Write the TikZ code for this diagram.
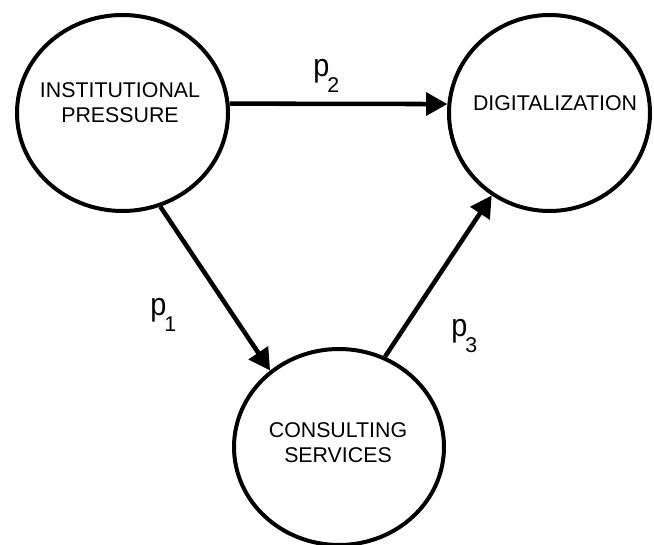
\documentclass[tikz,border=0pt]{standalone}
\usepackage{fontspec}
\setmainfont{Liberation Sans}
\usetikzlibrary{shapes.geometric,arrows.meta,calc}
\begin{document}
\begin{tikzpicture}[x=0.75pt,y=-0.75pt,
  circ/.style={draw=black, line width=3pt, ellipse, inner sep=0pt, outer sep=1.5pt},
  lbl/.style={font=\fontsize{16}{18.75}\selectfont, align=center, inner sep=0pt, anchor=north, text=black},
  conn/.style={line width=3.4pt, -{Triangle[length=16pt,width=17pt]}},
  plabel/.style={font=\fontsize{24}{24}\selectfont, inner sep=0pt, anchor=north west}]
\useasboundingbox (0,0) rectangle (654,545);
\node[circ, minimum width=158.25pt, minimum height=147pt] (ip) at (122.5,113) {};
\node[circ, minimum width=150.75pt, minimum height=147pt] (dig) at (549.5,113) {};
\node[circ, minimum width=157.5pt, minimum height=147pt] (cs) at (339,447) {};
\node[lbl] (iptext) at (120,82.5) {INSTITUTIONAL\\PRESSURE};
\node[lbl] (digtext) at (555,95) {DIGITALIZATION};
\node[lbl] (cstext) at (338,422) {CONSULTING\\SERVICES};
\draw[conn] (ip.5) -- (dig.175);
\draw[conn] (ip.-68) -- (cs.132);
\draw[conn] (cs.63) -- (dig.-125);
\node[plabel] (p2) at (313,59) {\scalebox{0.9}[1]{p}\kern-1.5pt\raisebox{-12pt}{\fontsize{16}{16}\selectfont 2}};
\node[plabel] (p1) at (150,298) {\scalebox{0.9}[1]{p}\kern-1.5pt\raisebox{-12pt}{\fontsize{16}{16}\selectfont 1}};
\node[plabel] (p3) at (451,319) {\scalebox{0.9}[1]{p}\kern-1.5pt\raisebox{-12pt}{\fontsize{16}{16}\selectfont 3}};
\end{tikzpicture}
\end{document}
